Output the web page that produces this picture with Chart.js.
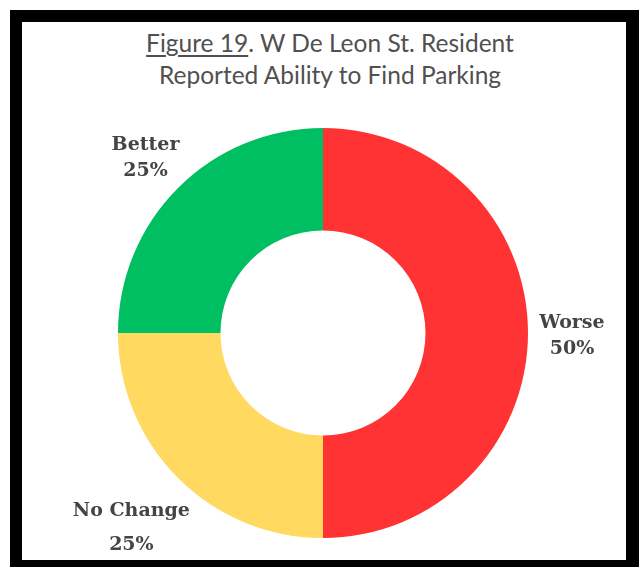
<!DOCTYPE html>
<html>
<head>
<meta charset="utf-8">
<script src="https://cdn.jsdelivr.net/npm/chart.js@4"></script>
<style>
    html, body { margin: 0; padding: 0; background: #fff; }
    body { width: 639px; height: 567px; position: relative; overflow: hidden; }
    .frame { position: absolute; left: 10px; top: 10px; width: 629px; height: 557px; background: #000; }
    .panel { position: absolute; left: 22px; top: 22px; width: 604px; height: 538px; background: #fff; }
    .title {
        position: absolute; left: 0; top: 5px; width: 616px; text-align: center;
        font-family: Lato, "Open Sans", sans-serif; font-size: 24.5px; line-height: 32px; color: #505050;
    }
    .title u { text-decoration-thickness: 2px; text-underline-offset: 3px; }
    #chartParking { position: absolute; left: 0; top: 0; }
</style>
</head>
<body>
<div class="frame"></div>
<div class="panel">
    <div class="title"><u>Figure 19</u>. W De Leon St. Resident<br>Reported Ability to Find Parking</div>
    <canvas id="chartParking" width="604" height="538"></canvas>
</div>
<script>
let categorias = ['Worse', 'No Change', 'Better'];
let percentuais = [50, 25, 25];
let cores = ['#FF3333', '#FFD960', '#00BF63'];
// distância do rótulo para fora da borda externa, por fatia
let afastamento = [44, 66, 46];

const rotulosFatias = {
    id: 'rotulosFatias',
    afterDatasetsDraw(chart) {
        let ctx = chart.ctx;
        let arcos = chart.getDatasetMeta(0).data;
        ctx.save();
        ctx.fillStyle = '#444';
        ctx.font = 'bold 19px "DejaVu Serif", serif';
        ctx.textAlign = 'center';
        ctx.textBaseline = 'middle';
        arcos.forEach((arco, i) => {
            let meio = (arco.startAngle + arco.endAngle) / 2;
            let r = arco.outerRadius + afastamento[i];
            let x = arco.x + Math.cos(meio) * r;
            let y = arco.y + Math.sin(meio) * r + 3;
            let gap = i == 1 ? 17 : 13;
            ctx.fillText(categorias[i], x, y - gap);
            ctx.fillText(percentuais[i] + '%', x, y + gap);
        });
        ctx.restore();
    }
};

var ctx = document.getElementById('chartParking').getContext('2d');
var parkingChart = new Chart(ctx, {
    type: 'doughnut',
    data: {
        labels: categorias,
        datasets: [{
            data: percentuais,
            backgroundColor: cores,
            borderWidth: 0,
            hoverOffset: 0
        }]
    },
    options: {
        responsive: false,
        animation: false,
        cutout: '50%',
        events: [],
        layout: {
            padding: { top: 106, bottom: 22, left: 96, right: 98 }
        },
        plugins: {
            legend: { display: false },
            tooltip: { enabled: false }
        }
    },
    plugins: [rotulosFatias]
});
</script>
</body>
</html>
